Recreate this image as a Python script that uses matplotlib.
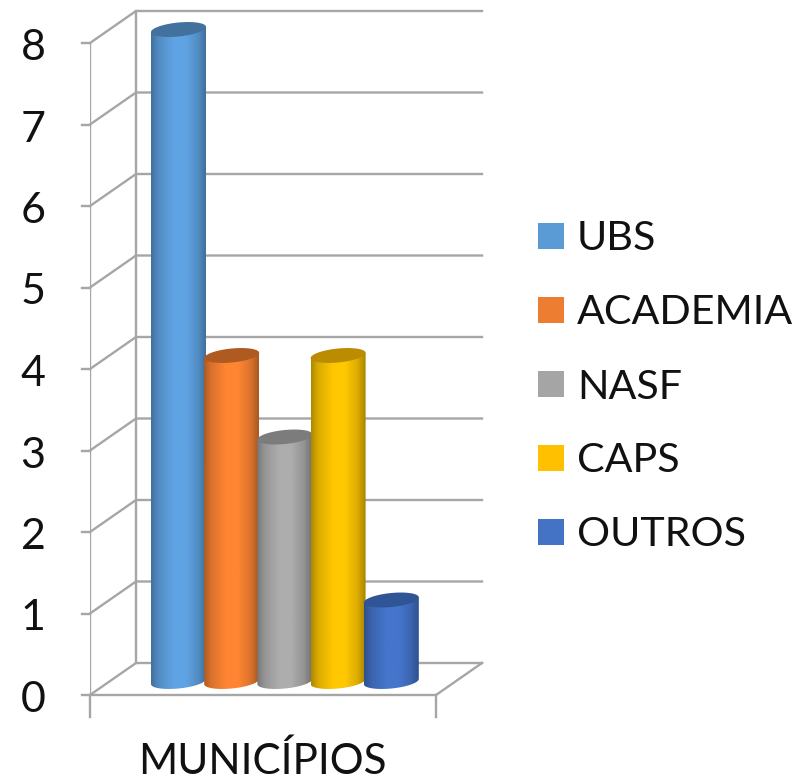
import numpy as np
import matplotlib
matplotlib.use('Agg')
import matplotlib.pyplot as plt
from matplotlib.patches import Polygon, Rectangle
from matplotlib.path import Path
from matplotlib.patches import PathPatch

categories = ['UBS', 'ACADEMIA', 'NASF', 'CAPS', 'OUTROS']
values = [8, 4, 3, 4, 1]
colors = ['#5FA3E3', '#FF8533', '#ADADAD', '#FFC800', '#4575CC']
legend_colors = ['#5B9BD5', '#ED7D31', '#A5A5A5', '#FFC000', '#4472C4']
tops = ['#41719C', '#AE5A21', '#7C7C7C', '#BC8C00', '#2F5597']
yticks = list(range(0, 9))
xlabel = 'MUNICÍPIOS'

W, H = 805, 781
plt.rcParams['font.family'] = ['Lato', 'DejaVu Sans']
fig = plt.figure(figsize=(W/100, H/100), dpi=100)
L, R, B, T = 90, 436, 695, 43
ax = fig.add_axes([L/W, 1-B/H, (R-L)/W, (B-T)/H])
ax.set_xlim(L, R)   # x measured along the front floor edge
ax.set_ylim(0, 8)
ax.axis('off')
upp = 8/(B-T)       # value units per pixel
dx, dy = 46, 32     # depth offset
gc = '#A6A6A6'
lw = 1.7

for v in yticks:
    ax.plot([L, L+dx, R+dx], [v, v+dy*upp, v+dy*upp], color=gc, lw=lw, clip_on=False, zorder=1)
    ax.plot([L-8, L], [v, v], color=gc, lw=lw, clip_on=False, zorder=1)
    ax.text(L-57, v-5*upp, str(v), fontsize=31, ha='center', va='center', color='#111111', clip_on=False)
ax.plot([L, L], [0, 8], color=gc, lw=lw, zorder=1)
ax.plot([L+dx, L+dx], [dy*upp, 8+dy*upp], color=gc, lw=lw, clip_on=False, zorder=1)
ax.plot([L, R, R+dx], [0, 0, dy*upp], color=gc, lw=lw, clip_on=False, zorder=1)
ax.plot([L, L], [0, -22*upp], color=gc, lw=lw, clip_on=False, zorder=1)
ax.plot([R, R], [0, -22*upp], color=gc, lw=lw, clip_on=False, zorder=1)

# cylinders
cw = 55
x0 = 151
base = 13.5*upp     # floor position of the cylinder axis
b = 7.0*upp         # minor semi-axis, value units
shear = 2.6*upp     # right side sits higher than left
th = np.linspace(0, 2*np.pi, 120)
t = np.linspace(-1, 1, 160)
shade = np.interp(t, [-1, -0.75, -0.2, 0.25, 0.7, 1], [0.68, 0.85, 1.0, 1.0, 0.86, 0.66])
for i, (val, c, tc) in enumerate(zip(values, colors, tops)):
    xl = x0 + i*53.2
    cx = xl + cw/2
    rgb = np.array(matplotlib.colors.to_rgb(c))
    img = np.clip(rgb[None, None, :]*shade[None, :, None], 0, 1)
    im = ax.imshow(img, extent=[xl, xl+cw, base-2*b, base+val+2*b], aspect='auto',
                   zorder=3+i, interpolation='bilinear')
    low = th[(th >= np.pi) & (th <= 2*np.pi)]
    bx = cx + cw/2*np.cos(low)
    by = base + b*np.sin(low) + shear*np.cos(low)
    vx = np.r_[bx, xl+cw, xl]
    vy = np.r_[by, base+val+shear, base+val-shear]
    clip = PathPatch(Path(np.c_[vx, vy]), transform=ax.transData, fc='none', ec='none')
    ax.add_patch(clip)
    im.set_clip_box(fig.bbox)
    im.set_clip_path(clip)
    ex = cx + cw/2*np.cos(th)
    ey = base + val + b*np.sin(th) + shear*np.cos(th)
    ax.add_patch(Polygon(np.c_[ex, ey], closed=True, fc=tc, ec='none', zorder=3.5+i, clip_on=False))
ax.set_xlim(L, R); ax.set_ylim(0, 8)

ax.text(262, -66*upp, xlabel, fontsize=30.4, ha='center', va='center', color='#111111', clip_on=False)

# legend
ly = [239, 313, 387, 461, 535]
for name, c, y in zip(categories, legend_colors, ly):
    fig.patches.append(Rectangle((538/W, 1-(y+10)/H), 26/W, 26/H, transform=fig.transFigure, fc=c, ec='none'))
    fig.text(577/W, 1-y/H, name, fontsize=29.7, ha='left', va='center', color='#111111')

fig.savefig('out.png', dpi=100)
